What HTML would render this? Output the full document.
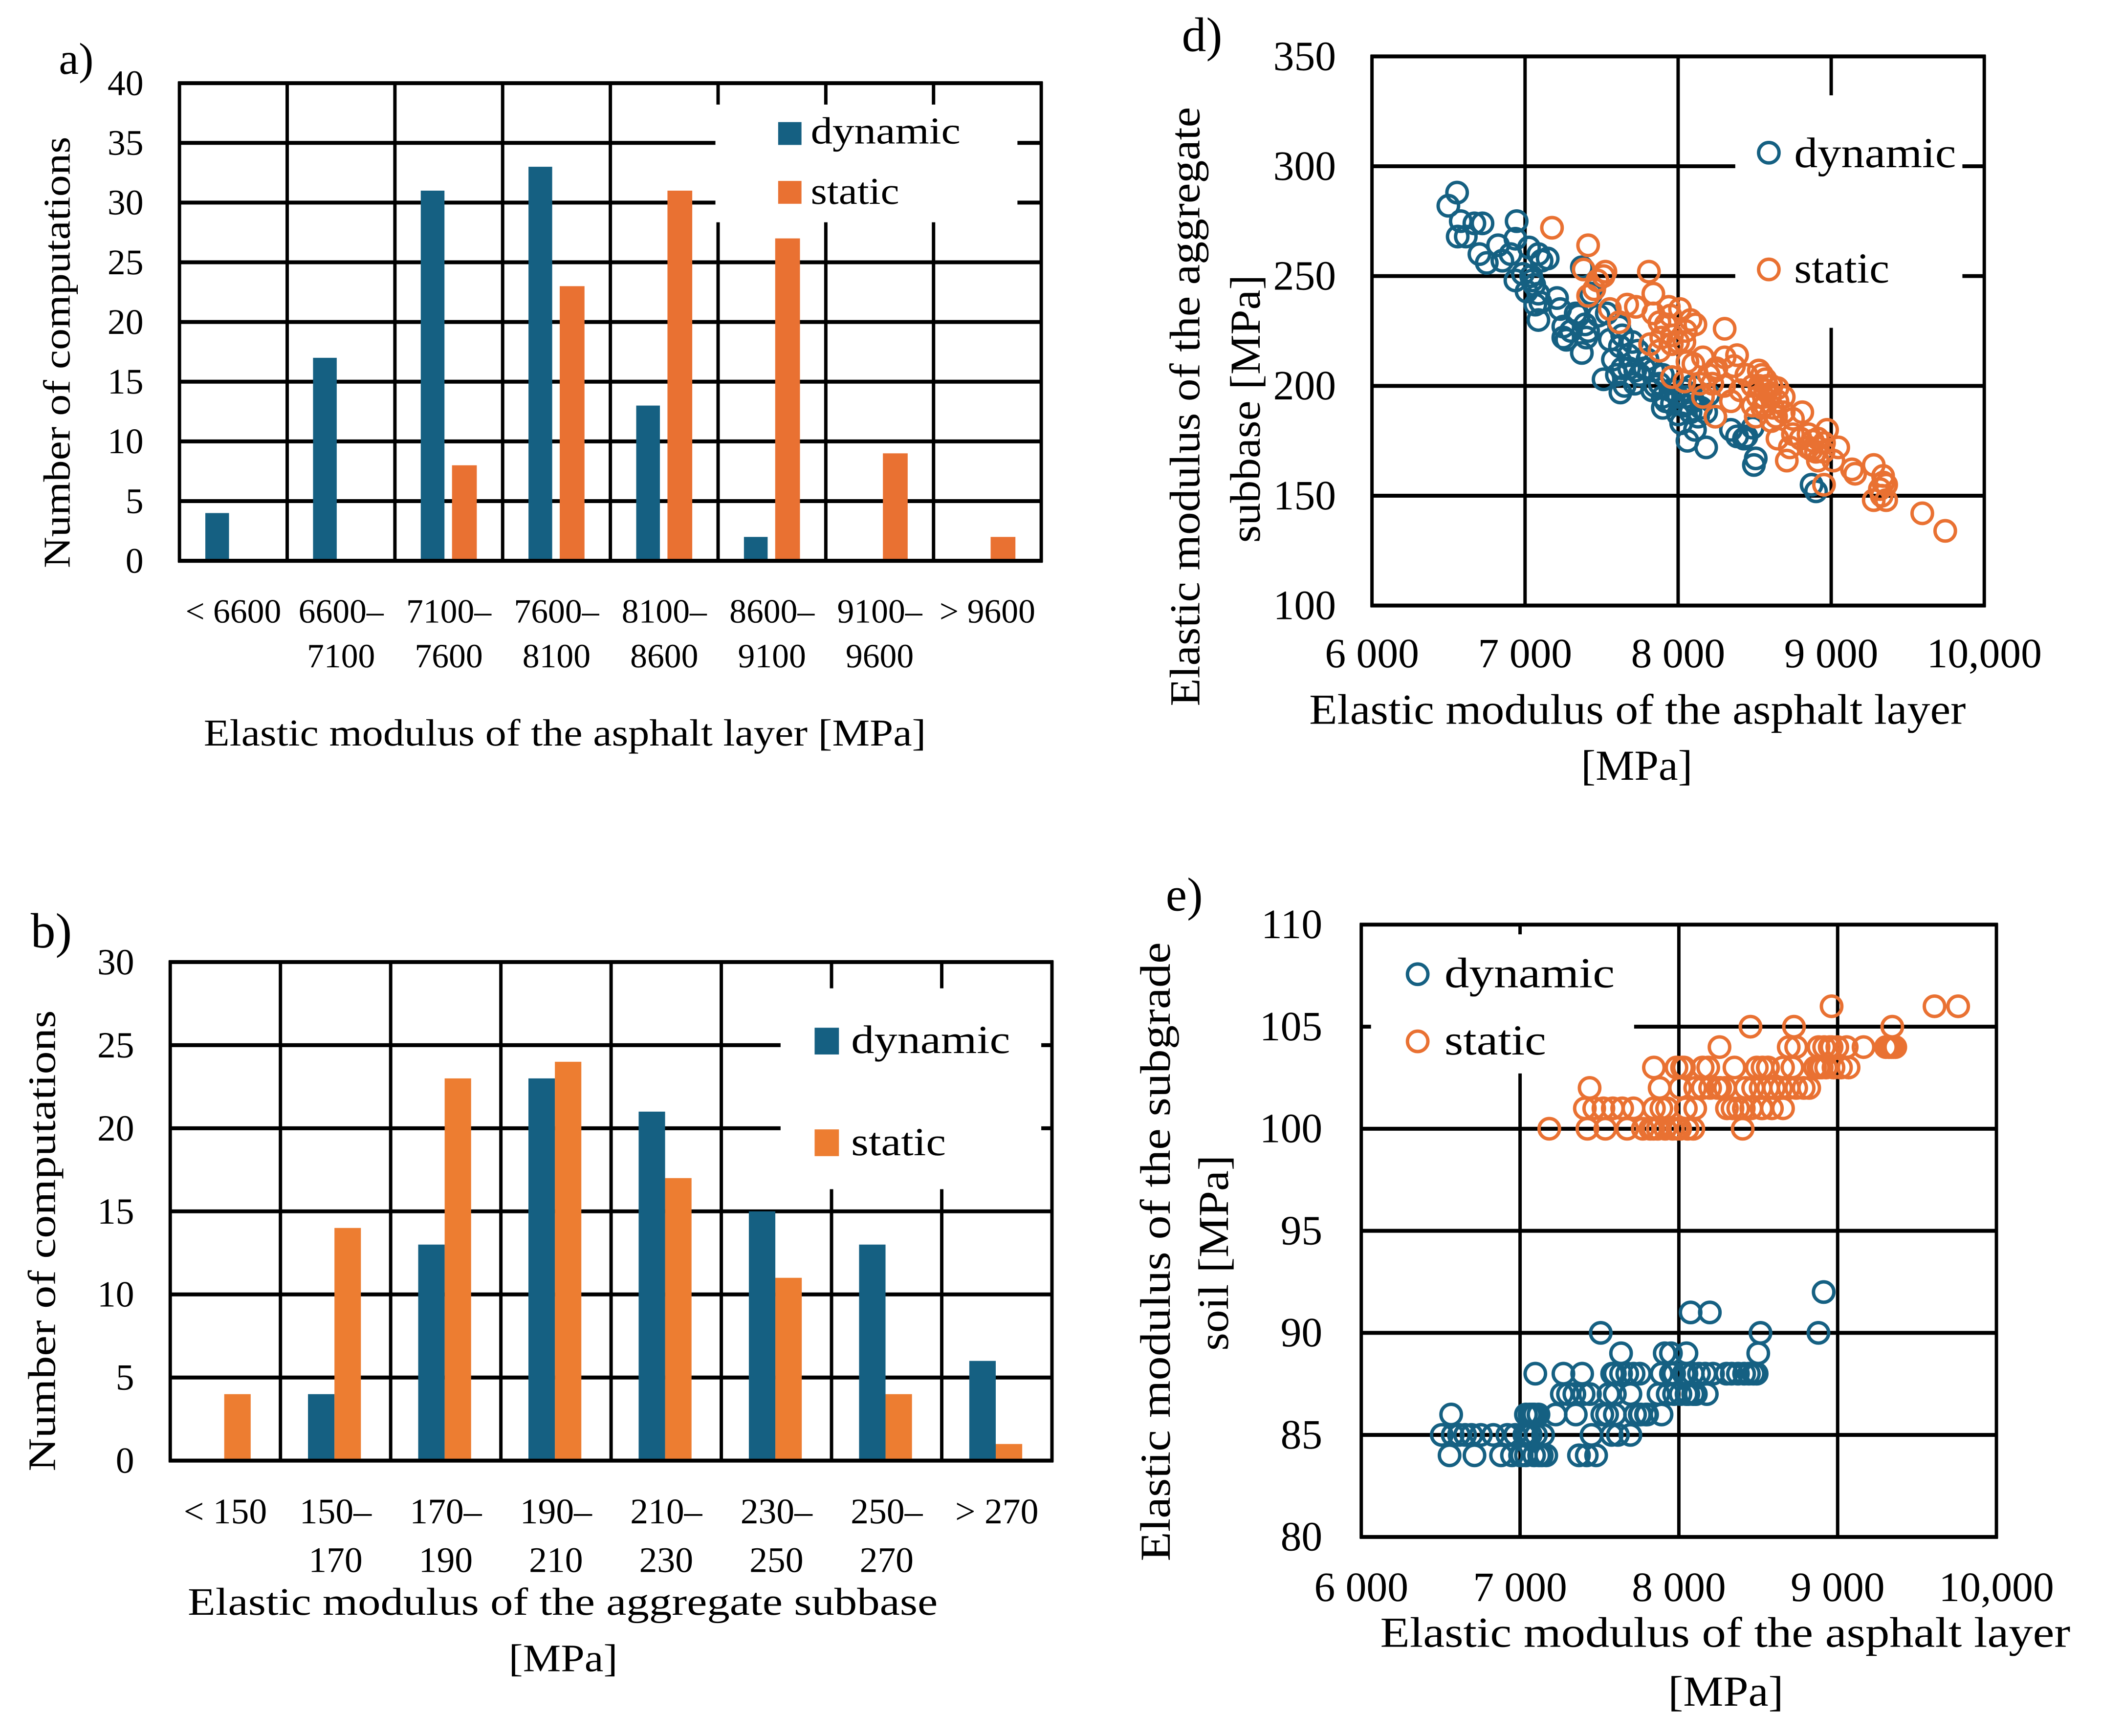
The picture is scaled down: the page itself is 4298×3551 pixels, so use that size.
<!DOCTYPE html>
<html>
<head>
<meta charset="utf-8">
<title>Elastic modulus distributions and correlations</title>
<style>
html,body{margin:0;padding:0;background:#fff}
svg{display:block}
text{font-family:"Liberation Serif",serif;fill:#000;text-rendering:geometricPrecision}
</style>
</head>
<body>
<svg id="figure" width="4298" height="3551" viewBox="0 0 4320 3569.2">
<rect width="4320" height="3570" fill="#fff"/>

<g id="panel-a"></g>
<g id="panel-b"></g>
<g id="panel-d"></g>
<g id="panel-e"></g>

<g>
<text x="121" y="152" font-size="92">a)</text>
<text x="419" y="1533" font-size="78" textLength="1485" lengthAdjust="spacingAndGlyphs">Elastic modulus of the asphalt layer [MPa]</text>
<text transform="translate(143,1168) rotate(-90)" font-size="78" textLength="887" lengthAdjust="spacingAndGlyphs">Number of computations</text>
<text x="1667" y="295" font-size="78" textLength="308" lengthAdjust="spacingAndGlyphs">dynamic</text>
<text x="1667" y="419" font-size="78" textLength="182" lengthAdjust="spacingAndGlyphs">static</text>

<text x="63" y="1948" font-size="102">b)</text>
<text x="386" y="3320" font-size="80" textLength="1542" lengthAdjust="spacingAndGlyphs">Elastic modulus of the aggregate subbase</text>
<text x="1046" y="3436" font-size="80" textLength="224" lengthAdjust="spacingAndGlyphs">[MPa]</text>
<text transform="translate(113,3025) rotate(-90)" font-size="80" textLength="948" lengthAdjust="spacingAndGlyphs">Number of computations</text>
<text x="1750" y="2165" font-size="82" textLength="327" lengthAdjust="spacingAndGlyphs">dynamic</text>
<text x="1750" y="2375" font-size="82" textLength="195" lengthAdjust="spacingAndGlyphs">static</text>

<text x="2430" y="105" font-size="100">d)</text>
<text x="2692" y="1488" font-size="88" textLength="1350" lengthAdjust="spacingAndGlyphs">Elastic modulus of the asphalt layer</text>
<text x="3251" y="1603" font-size="88" textLength="229" lengthAdjust="spacingAndGlyphs">[MPa]</text>
<text transform="translate(2466,1452) rotate(-90)" font-size="88" textLength="1232" lengthAdjust="spacingAndGlyphs">Elastic modulus of the aggregate</text>
<text transform="translate(2590,1116) rotate(-90)" font-size="88" textLength="551" lengthAdjust="spacingAndGlyphs">subbase [MPa]</text>
<text x="3689" y="344" font-size="88" textLength="333" lengthAdjust="spacingAndGlyphs">dynamic</text>
<text x="3689" y="581" font-size="88" textLength="196" lengthAdjust="spacingAndGlyphs">static</text>

<text x="2397" y="1872" font-size="98">e)</text>
<text x="2838" y="3386" font-size="88" textLength="1419" lengthAdjust="spacingAndGlyphs">Elastic modulus of the asphalt layer</text>
<text x="3430" y="3507" font-size="88" textLength="237" lengthAdjust="spacingAndGlyphs">[MPa]</text>
<text transform="translate(2405,3210) rotate(-90)" font-size="88" textLength="1273" lengthAdjust="spacingAndGlyphs">Elastic modulus of the subgrade</text>
<text transform="translate(2525,2777) rotate(-90)" font-size="88" textLength="402" lengthAdjust="spacingAndGlyphs">soil [MPa]</text>
<text x="2970" y="2030" font-size="88" textLength="350" lengthAdjust="spacingAndGlyphs">dynamic</text>
<text x="2970" y="2168" font-size="88" textLength="209" lengthAdjust="spacingAndGlyphs">static</text>
</g>
</svg>

<script>
/* ---------- data: panel a ---------- */
const aCatLine1 = ['< 6600','6600–','7100–','7600–','8100–','8600–','9100–','> 9600'];
const aCatLine2 = ['','7100','7600','8100','8600','9100','9600',''];
const aYTicks = [0,5,10,15,20,25,30,35,40];
const aDynamic = [4,17,31,33,13,2,0,0];
const aStatic = [0,0,8,23,31,27,9,2];

/* ---------- data: panel b ---------- */
const bCatLine1 = ['< 150','150–','170–','190–','210–','230–','250–','> 270'];
const bCatLine2 = ['','170','190','210','230','250','270',''];
const bYTicks = [0,5,10,15,20,25,30];
const bDynamic = [0,4,13,23,21,15,13,6];
const bStatic = [4,14,23,24,17,11,4,1];

/* ---------- data: scatter axes ---------- */
const scatterXTicks = [6000,7000,8000,9000,10000];
const scatterXLabels = ['6 000','7 000','8 000','9 000','10,000'];
const dYTicks = [100,150,200,250,300,350];
const eYTicks = [80,85,90,95,100,105,110];

/* ---------- data: panel d ---------- */
const dDynamic = [[6499,282],[6556,288],[6580,275],[6560,268],[6613,268],[6669,274],[6722,274],[6702,260],[6750,256],[6824,264],[6852,257],[6905,260],[6945,275],[6937,267],[6937,248],[7026,263],[7087,260],[7148,258],[7108,257],[6986,251],[7047,248],[7087,242],[7067,237],[7087,230],[7209,240],[7229,235],[7250,227],[7270,221],[7331,233],[7392,228],[7412,225],[7371,215],[7371,254],[7432,242],[7534,233],[7615,227],[7554,221],[7635,223],[7574,212],[7635,208],[7676,214],[7736,216],[7513,203],[7623,197],[7716,201],[7838,207],[7878,201],[7899,195],[7919,193],[8000,195],[8041,191],[8081,188],[8061,175],[8183,172],[8183,188],[8162,195],[8243,186],[8345,180],[8385,177],[8446,177],[8487,181],[8507,167],[8495,164],[8872,155],[8901,152],[7680,208],[7750,205],[7600,205],[7650,200],[7800,212],[7850,200],[7950,198],[8050,195],[8100,193],[8000,187],[8110,180],[7900,205],[7480,232],[7040,250],[7060,246],[7010,243],[7100,238],[7300,225],[7350,232],[7250,222],[7400,222],[7620,218],[7700,220],[8150,190],[8200,196],[8430,176],[7830,198],[7900,190],[7960,192],[8040,198],[8090,200],[8130,186],[8020,183],[7780,208],[7720,207]];
const dStatic = [[7176,272],[7412,264],[7383,253],[7525,252],[7473,248],[7513,250],[7412,241],[7452,244],[7809,252],[7838,242],[7667,237],[7724,236],[7554,235],[7615,229],[7939,236],[8012,235],[7838,233],[7878,229],[8081,230],[8113,228],[8304,226],[7960,223],[8041,220],[7817,219],[7878,216],[7959,219],[8061,211],[8162,213],[8304,213],[8385,214],[8365,209],[8243,207],[7960,204],[8041,202],[8142,201],[8223,201],[8162,195],[8345,193],[8243,186],[8446,205],[8527,207],[8548,205],[8487,200],[8568,198],[8406,198],[8649,199],[8487,191],[8568,191],[8649,193],[8690,188],[8507,186],[8609,184],[8811,188],[8750,185],[8649,176],[8750,178],[8730,172],[8710,166],[8852,178],[8913,176],[8973,180],[8953,174],[8872,171],[8913,166],[9046,172],[9014,166],[8953,155],[9136,162],[9156,160],[9278,164],[9278,148],[9339,159],[9359,155],[9359,148],[9318,153],[9595,142],[9745,134],[8570,203],[8580,200],[8600,196],[8520,195],[8550,190],[8620,190],[8690,195],[8800,176],[8850,172],[8880,175],[8900,170],[8950,170],[7890,222],[7920,228],[8000,220],[8050,225],[8100,210],[8200,205],[8250,208],[8300,200],[7950,232],[9330,150],[9340,156],[8560,195],[8610,200],[8530,200],[8640,186]];

/* ---------- data: panel e ---------- */
const eDynamic = [[6556,84],[6713,84],[6880,84],[6949,84],[7000,84],[7037,84],[7088,84],[7137,84],[7165,84],[7371,84],[7420,84],[7479,84],[7010,84],[7120,84],
[6507,85],[6576,85],[6615,85],[6654,85],[6694,85],[6753,85],[6831,85],[6920,85],[6969,85],[7027,85],[7067,85],[7145,85],[7450,85],[7577,85],[7616,85],[7695,85],[7045,85],[7100,85],
[6566,86],[7037,86],[7077,86],[7116,86],[7224,86],[7351,86],[7518,86],[7548,86],[7597,86],[7724,86],[7754,86],[7793,86],[7891,86],[7060,86],[7090,86],[7760,86],[7800,86],
[7263,87],[7302,87],[7342,87],[7400,87],[7440,87],[7557,87],[7597,87],[7695,87],[7872,87],[7930,87],[7970,87],[8010,87],[8048,87],[8107,87],[8176,87],[8060,87],[8090,87],
[7096,88],[7273,88],[7391,88],[7597,88],[7636,88],[7675,88],[7715,88],[7754,88],[7891,88],[7950,88],[8048,88],[8088,88],[8127,88],[8166,88],[8215,88],[8333,88],[8372,88],[8411,88],[8441,88],[8470,88],[7580,88],[8030,88],[8300,88],[8490,88],[7970,88],
[7636,89],[7911,89],[7950,89],[8048,89],[8500,89],
[7508,90],[8514,90],[8879,90],[8074,91],[8195,91],[8912,92]];
const eStatic = [[7184,100],[7424,100],[7537,100],[7674,100],[7773,100],[7820,100],[7867,100],[7914,100],[7961,100],[8008,100],[8055,100],[8091,100],[8402,100],[7990,100],[7840,100],
[7408,101],[7467,101],[7525,101],[7584,101],[7643,101],[7714,101],[7843,101],[7890,101],[7926,101],[8044,101],[8103,101],[8303,101],[8338,101],[8374,101],[8409,101],[8456,101],[8527,101],[8586,101],[8656,101],[8520,101],
[7438,102],[7879,102],[8008,102],[8103,102],[8150,102],[8197,102],[8244,102],[8291,102],[8421,102],[8468,102],[8515,102],[8562,102],[8644,102],[8692,102],[8739,102],[8786,102],[8821,102],[8260,102],[8600,102],
[7843,103],[7985,103],[8032,103],[8150,103],[8185,103],[8350,103],[8491,103],[8527,103],[8562,103],[8656,103],[8715,103],[8857,103],[8892,103],[8927,103],[8974,103],[9021,103],[9069,103],[8020,103],[8560,103],[8880,103],[8900,103],
[8256,104],[8692,104],[8739,104],[8880,104],[8915,104],[8962,104],[8998,104],[9057,104],[9163,104],[9304,104],[9328,104],[9351,104],[9363,104],[8950,104],[9340,104],[9320,104],
[8451,105],[8725,105],[9344,105],[8962,106],[9610,106],[9759,106]];

/* ---------- drawing ---------- */
const NS = 'http://www.w3.org/2000/svg';
const DYN = '#156082';
const ORA = '#E97132';

function mk(parent, tag, attrs, name) {
  const el = document.createElementNS(NS, tag);
  for (const k in attrs) el.setAttribute(k, attrs[k]);
  
  
  parent.appendChild(el);
  return el;
}
function label(parent, str, x, y, size, anchor, name) {
  const t = mk(parent, 'text', {x:x, y:y, 'font-size':size, 'text-anchor':anchor}, name);
  t.textContent = str;
  return t;
}
function hLine(g, x0, x1, y, w, name) {
  mk(g, 'line', {x1:x0, x2:x1, y1:y, y2:y, stroke:'#000', 'stroke-width':w}, name);
}
function vLine(g, x, y0, y1, w, name) {
  mk(g, 'line', {x1:x, x2:x, y1:y0, y2:y1, stroke:'#000', 'stroke-width':w}, name);
}

function histogram(cfg, line1, line2, yTicks, dynVals, statVals) {
  const g = document.getElementById(cfg.id);
  const n = line1.length;
  const yMax = yTicks[yTicks.length - 1];
  const catW = (cfg.x1 - cfg.x0) / n;
  const xAt = i => cfg.x0 + i * catW;
  const yAt = v => cfg.y1 - (v / yMax) * (cfg.y1 - cfg.y0);

  yTicks.forEach(v => {
    hLine(g, cfg.x0 - 3, cfg.x1 + 3, yAt(v), 8, 'grid-line-y-' + v);
    label(g, String(v), cfg.tickX, yAt(v) + cfg.tickSize * 0.33, cfg.tickSize, 'end', 'y-tick-' + v);
  });
  for (let i = 0; i <= n; i++) vLine(g, xAt(i), cfg.y0 - 3, cfg.y1 + 3, 7, 'grid-line-x-' + i);
  mk(g, 'rect', {x:cfg.box[0], y:cfg.box[1], width:cfg.box[2], height:cfg.box[3], fill:'#fff'}, 'legend-background');

  for (let i = 0; i < n; i++) {
    const dh = cfg.y1 - yAt(dynVals[i]);
    const sh = cfg.y1 - yAt(statVals[i]);
    if (dynVals[i] > 0) mk(g, 'rect', {x:xAt(i) + cfg.d0 * catW, y:yAt(dynVals[i]), width:(cfg.d1 - cfg.d0) * catW, height:dh, fill:DYN}, 'bar-dynamic-' + i);
    if (statVals[i] > 0) mk(g, 'rect', {x:xAt(i) + cfg.s0 * catW, y:yAt(statVals[i]), width:(cfg.s1 - cfg.s0) * catW, height:sh, fill:cfg.statColor}, 'bar-static-' + i);
    label(g, line1[i], xAt(i) + catW / 2, cfg.lab1, cfg.labSize, 'middle', 'category-label-' + i + '-line-1');
    if (line2[i]) label(g, line2[i], xAt(i) + catW / 2, cfg.lab2, cfg.labSize, 'middle', 'category-label-' + i + '-line-2');
  }
  hLine(g, cfg.x0 - 3, cfg.x1 + 3, cfg.y1, 8, 'x-axis-line');
  mk(g, 'rect', {x:cfg.sw[0], y:cfg.sw[1], width:cfg.sw[2], height:cfg.sw[3], fill:DYN}, 'legend-swatch-dynamic');
  mk(g, 'rect', {x:cfg.sw[0], y:cfg.sw[4], width:cfg.sw[2], height:cfg.sw[3], fill:cfg.statColor}, 'legend-swatch-static');
}

function scatter(cfg, yTicks, dynPts, statPts) {
  const g = document.getElementById(cfg.id);
  const xMin = scatterXTicks[0], xMax = scatterXTicks[scatterXTicks.length - 1];
  const yMin = yTicks[0], yMax = yTicks[yTicks.length - 1];
  const xAt = v => cfg.x0 + (v - xMin) / (xMax - xMin) * (cfg.x1 - cfg.x0);
  const yAt = v => cfg.y1 - (v - yMin) / (yMax - yMin) * (cfg.y1 - cfg.y0);

  yTicks.forEach(v => {
    hLine(g, cfg.x0 - 3, cfg.x1 + 3, yAt(v), 8, 'grid-line-y-' + v);
    label(g, String(v), cfg.tickX, yAt(v) + 28, 86, 'end', 'y-tick-' + v);
  });
  scatterXTicks.forEach((v, i) => {
    vLine(g, xAt(v), cfg.y0 - 3, cfg.y1 + 3, 7, 'grid-line-x-' + v);
    label(g, scatterXLabels[i], xAt(v), cfg.labY, 86, 'middle', 'x-tick-' + v);
  });
  mk(g, 'rect', {x:cfg.box[0], y:cfg.box[1], width:cfg.box[2], height:cfg.box[3], fill:'#fff'}, 'legend-background');

  dynPts.forEach((p, i) => {
    mk(g, 'circle', {cx:xAt(p[0]), cy:yAt(p[1]), r:21, fill:'none', stroke:DYN, 'stroke-width':7}, 'point-dynamic-' + i);
  });
  statPts.forEach((p, i) => {
    mk(g, 'circle', {cx:xAt(p[0]), cy:yAt(p[1]), r:21, fill:'none', stroke:ORA, 'stroke-width':7}, 'point-static-' + i);
  });
  mk(g, 'circle', {cx:cfg.leg[0], cy:cfg.leg[1], r:21, fill:'none', stroke:DYN, 'stroke-width':7}, 'legend-marker-dynamic');
  mk(g, 'circle', {cx:cfg.leg[0], cy:cfg.leg[2], r:21, fill:'none', stroke:ORA, 'stroke-width':7}, 'legend-marker-static');
}

histogram({id:'panel-a', x0:369, x1:2141, y0:171, y1:1153, tickX:295, tickSize:74,
  lab1:1280, lab2:1372, labSize:70, d0:.24, d1:.46, s0:.53, s1:.76, statColor:'#E97132',
  box:[1471,215,621,242], sw:[1600,251,48,47,372]}, aCatLine1, aCatLine2, aYTicks, aDynamic, aStatic);

histogram({id:'panel-b', x0:350, x1:2163, y0:1978, y1:3003, tickX:276, tickSize:76,
  lab1:3132, lab2:3232, labSize:74, d0:.25, d1:.49, s0:.49, s1:.73, statColor:'#ED7D31',
  box:[1605,2032,536,413], sw:[1675,2113,50,55,2322]}, bCatLine1, bCatLine2, bYTicks, bDynamic, bStatic);

scatter({id:'panel-d', x0:2821, x1:4080, y0:116, y1:1245, tickX:2747, labY:1372,
  box:[3568,196,467,478], leg:[3637,314,554]}, dYTicks, dDynamic, dStatic);

scatter({id:'panel-e', x0:2799, x1:4105, y0:1901, y1:3160, tickX:2719, labY:3292,
  box:[2819,1921,541,286], leg:[2915,2003,2141]}, eYTicks, eDynamic, eStatic);
</script>
</body>
</html>
